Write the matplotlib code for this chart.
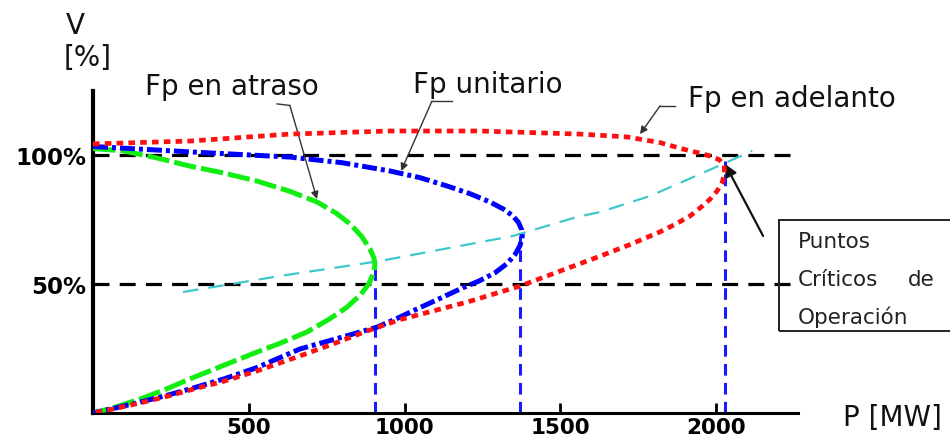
import matplotlib
matplotlib.use("Agg")
import matplotlib.pyplot as plt
from matplotlib.patches import Rectangle

# ---------------- data ----------------
# Fp en atraso (green)
atraso_p = [0, 96, 200, 311, 420, 526, 630, 719, 780, 825, 862, 889, 902, 905, 900, 885, 860, 815, 760,
            687, 600, 526, 420, 311, 230, 151, 70, 0]
atraso_v = [102.5, 101.6, 99.0, 95.7, 93.0, 89.9, 86.0, 81.8, 77.5, 73.3, 68.5, 63.6, 60.0, 57.5, 54.0, 50.0,
            46.0, 41.0, 36.5, 31.4, 27.0, 23.6, 18.5, 13.2, 9.0, 5.4, 2.2, 0]

# Fp unitario (blue)
unit_p = [0, 311, 632, 800, 953, 1050, 1136, 1210, 1274, 1318, 1348, 1366, 1376, 1378, 1371, 1355, 1330,
          1290, 1240, 1188, 1110, 1040, 975, 912, 840, 770, 664, 526, 420, 311, 230, 151, 70, 0]
unit_v = [103.3, 101.2, 99.2, 97.0, 93.8, 91.2, 88.0, 85.0, 81.8, 79.0, 76.4, 73.8, 71.0, 68.5, 65.0, 61.5,
          58.0, 54.3, 51.2, 48.6, 44.2, 40.3, 36.6, 33.3, 30.8, 28.4, 24.8, 17.6, 13.2, 9.3, 6.6, 4.2, 1.9, 0]

# Fp en adelanto (red)
adel_p = [0, 311, 632, 953, 1242, 1563, 1714, 1820, 1894, 1945, 1981, 2010, 2026, 2027, 2020, 2003, 1981,
          1950, 1917, 1870, 1820, 1724, 1628, 1499, 1371, 1201, 986, 880, 780, 664, 526, 420, 311, 230, 151, 70, 0]
adel_v = [104.3, 105.4, 108.1, 109.3, 109.3, 108.1, 107.0, 104.8, 102.3, 100.8, 99.6, 98.2, 96.0, 93.0, 89.5,
          86.0, 82.9, 79.6, 76.4, 73.2, 70.2, 65.3, 60.8, 55.0, 49.2, 43.0, 36.2, 31.8, 27.2, 22.1, 16.3, 12.3,
          8.9, 6.2, 3.9, 1.7, 0]

# locus of critical points (cyan)
locus_p = [289, 600, 921, 1348, 1554, 1628, 1788, 1949, 2116]
locus_v = [46.9, 53.1, 58.9, 68.6, 76.0, 77.9, 84.1, 92.6, 101.6]

# critical operating points
crit_p = [905, 1371, 2029]
crit_v = [58.5, 68.5, 97.5]

ref_levels = [100, 50]
xticks = [500, 1000, 1500, 2000]
xtick_labels = ["500", "1000", "1500", "2000"]
yticks = [50, 100]
ytick_labels = ["50%", "100%"]

# ---------------- figure ----------------
W, H = 950, 439
fig = plt.figure(figsize=(W / 100, H / 100), dpi=100)
ax = fig.add_axes([93 / W, 25 / H, (798 - 93) / W, (414 - 92) / H])
ax.set_xlim(0, 2263)
ax.set_ylim(0, 124.8)

for s in ["top", "right"]:
    ax.spines[s].set_visible(False)
ax.spines["left"].set_linewidth(3)
ax.spines["bottom"].set_linewidth(2.2)

ax.set_xticks(xticks)
ax.set_xticklabels(xtick_labels, fontsize=15.5, fontweight="bold")
ax.set_yticks(yticks)
ax.set_yticklabels(ytick_labels, fontsize=16.5, fontweight="bold")
ax.tick_params(axis="x", direction="in", length=7, width=2, pad=3)
ax.tick_params(axis="y", direction="in", length=3, width=1, pad=5)

# reference lines
for lv in ref_levels:
    ax.plot([0, 2263], [lv, lv], color="black", lw=2.3, ls=(0, (5, 3.2)), zorder=2)

# vertical drops at critical points
for p, v in zip(crit_p, crit_v):
    ax.plot([p, p], [0, v], color="#1a1aff", lw=2.2, ls=(0, (3.8, 2.4)), zorder=2)

# curves
ax.plot(locus_p, locus_v, color="#3fc8cc", lw=1.6, ls=(0, (7, 4.5)), zorder=3)
ax.plot(atraso_p, atraso_v, color="#12ee12", lw=3.6, ls=(0, (4.5, 1.0)), zorder=4,
        solid_joinstyle="round", dash_joinstyle="round")
ax.plot(unit_p, unit_v, color="#0000ff", lw=3.6, ls=(0, (3, 0.8, 0.8, 0.8)), zorder=4,
        dash_joinstyle="round")
ax.plot(adel_p, adel_v, color="#ff1010", lw=3.4, ls=(0, (1.4, 1.1)), zorder=5,
        dash_joinstyle="round")

# annotations
txt_kw = dict(fontsize=20, color="#111111")
ax.text(167, 123.6, "Fp en atraso", ha="left", va="baseline", clip_on=False, **txt_kw)
ax.text(1027, 124.4, "Fp unitario", ha="left", va="baseline", clip_on=False, **txt_kw)
ax.text(1910, 119.0, "Fp en adelanto", ha="left", va="baseline", clip_on=False, **txt_kw)

lead_kw = dict(color="#333333", lw=1.0, clip_on=False, zorder=6)
arrow_kw = dict(arrowstyle="-|>", color="#333333", lw=1.0, mutation_scale=11, shrinkA=0, shrinkB=0)
# atraso leader
ax.plot([591, 632], [119.8, 119.2], **lead_kw)
ax.annotate("", xy=(719, 82.9), xytext=(632, 119.2), arrowprops=arrow_kw, annotation_clip=False)
# unitario leader
ax.plot([1152, 1088], [120.9, 120.9], **lead_kw)
ax.annotate("", xy=(989, 93.8), xytext=(1088, 120.9), arrowprops=arrow_kw, annotation_clip=False)
# adelanto leader
ax.plot([1868, 1820], [119.0, 119.0], **lead_kw)
ax.annotate("", xy=(1756, 108.1), xytext=(1820, 119.0), arrowprops=arrow_kw, annotation_clip=False)
# critical point arrow
ax.annotate("", xy=(2029, 96.5), xytext=(2151, 68.6), annotation_clip=False,
            arrowprops=dict(arrowstyle="-|>", color="#111111", lw=1.6, mutation_scale=18,
                            shrinkA=0, shrinkB=0))

# axis labels (outside)
fig.text(75 / W, 1 - 26 / H, "V", ha="center", va="center", fontsize=20, color="#111111")
fig.text(88 / W, 1 - 58 / H, "[%]", ha="center", va="center", fontsize=20, color="#111111")
fig.text(843 / W, 1 - 418 / H, "P [MW]", ha="left", va="center", fontsize=20, color="#111111")

# box with text
fig.patches.append(Rectangle((779 / W, 1 - 332 / H), (960 - 779) / W, (332 - 221) / H,
                             transform=fig.transFigure, fill=False, edgecolor="#222222", lw=1.4))
box_kw = dict(fontsize=15.5, color="#222222", va="center", ha="left")
fig.text(798 / W, 1 - 242 / H, "Puntos", **box_kw)
fig.text(798 / W, 1 - 280 / H, "Críticos", **box_kw)
fig.text(908 / W, 1 - 280 / H, "de", **box_kw)
fig.text(798 / W, 1 - 317 / H, "Operación", **box_kw)

fig.savefig("out.png", dpi=100)
